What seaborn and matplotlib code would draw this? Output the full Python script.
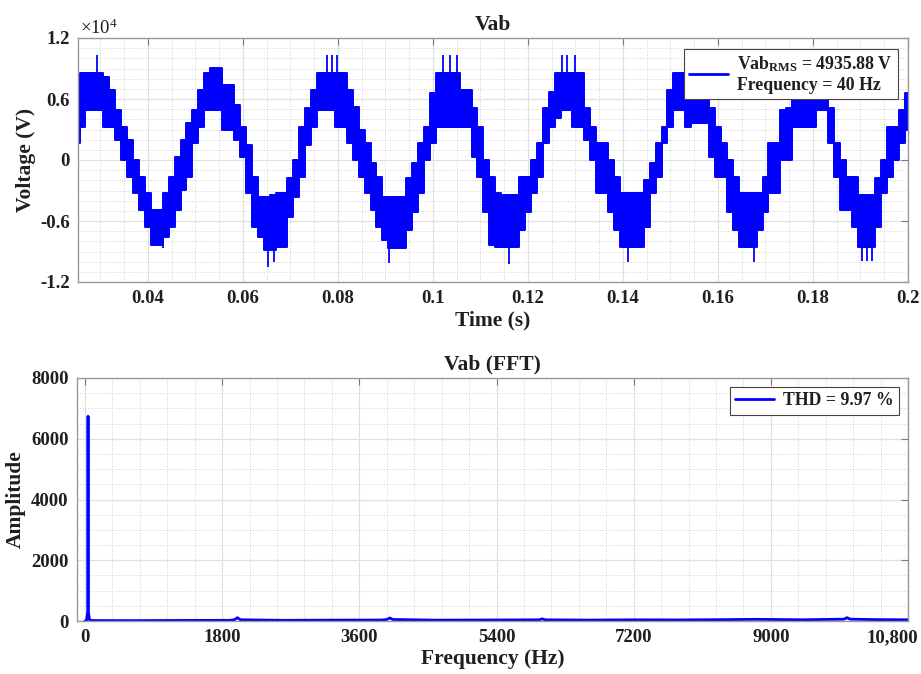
import numpy as np
import pandas as pd
import matplotlib
matplotlib.use("Agg")
import matplotlib.pyplot as plt
import matplotlib.transforms as mtransforms
import seaborn as sns
from matplotlib.lines import Line2D
from matplotlib.ticker import MultipleLocator

# ---------------- data ----------------
t_start = 0.025
t_step = 0.00125
v_upper = [8360, 8530, 8530, 8530, 8530, 8200, 6890, 4920, 3280, 1970,
           0, -1640, -3280, -4920, -4920, -3280, -1640, 330, 1970, 3610,
           4920, 6890, 8530, 9020, 9020, 7380, 7380, 5410, 3280, 1480,
           -1640, -3610, -3610, -3450, -3280, -3280, -1800, 0, 3280, 5080,
           6890, 8530, 8530, 8530, 8530, 8530, 6890, 5250, 2950, 1640,
           -330, -1640, -3610, -3610, -3610, -3610, -1800, -330, 1640, 3280,
           6560, 8530, 8530, 8530, 8530, 6890, 6890, 5080, 3280, 0,
           -1640, -3280, -3450, -3450, -3450, -1640, -1640, 0, 1640, 5080,
           6720, 8530, 8530, 8530, 8530, 8530, 5080, 3280, 1640, 1640,
           0, -1640, -3280, -3280, -3280, -3280, -1970, -330, 1640, 3280,
           6890, 8530, 8530, 8530, 8530, 8530, 6890, 5080, 3280, 1640,
           0, -1640, -3280, -3280, -3280, -3280, -1640, 1640, 1640, 4920,
           5080, 6890, 8530, 8530, 8530, 8530, 8530, 5080, 1640, 0,
           -1640, -1640, -3450, -3450, -3450, -1800, 0, 3280, 3280, 4920,
           6560]
v_lower = [1640, 3280, 4920, 4920, 4920, 3280, 3280, 1970, 0, -1640,
           -3280, -4920, -6560, -8360, -8360, -7540, -6560, -4920, -2950, -1640,
           1640, 3280, 4920, 4920, 4920, 2950, 2950, 1970, 330, -3280,
           -6560, -7540, -8860, -8860, -8530, -8530, -5580, -3610, -1640, 1480,
           3280, 4920, 4920, 4920, 3280, 3280, 1640, 0, -1640, -3280,
           -4920, -6560, -7870, -8690, -8690, -8690, -6890, -5080, -3280, 0,
           1640, 3280, 3280, 3280, 3280, 3280, 3280, 330, -1640, -5080,
           -8360, -8530, -8530, -8530, -8530, -6890, -5080, -3280, -1640, 1640,
           3280, 4100, 4920, 4920, 3280, 3280, 1970, 0, -3280, -3280,
           -5080, -6890, -8530, -8530, -8530, -8530, -6560, -3280, -1640, 1640,
           3280, 4920, 4920, 3280, 3610, 3610, 3610, 330, -1640, -1640,
           -5080, -6890, -8530, -8530, -8530, -6890, -5080, -3280, -3280, 0,
           0, 3280, 3280, 3280, 3280, 4920, 4920, 1640, -1640, -4920,
           -4920, -6560, -8530, -8530, -8530, -6560, -3280, -1640, 0, 1640,
           3000]
spike_t = [0.0293, 0.0432, 0.0653, 0.0665, 0.0777, 0.0787, 0.0798,
           0.0907, 0.1021, 0.1036, 0.1051, 0.1160, 0.1272, 0.1282,
           0.1299, 0.1411, 0.1531, 0.1676, 0.1903, 0.1914, 0.1924]
spike_v = [10330, -8700, -10500, -10000, 10330, 10330, 10330,
           -10150, 10330, 10330, 10330, -10250, 10330, 10330,
           10330, -10000, 10230, -10000, -9940, -9940, -9940]

fft_freq = [0, 20, 36, 40, 44, 60, 100, 600, 1200, 1900, 1960, 2000, 2040,
            2600, 3200, 3900, 3960, 4000, 4040, 4600, 5200, 5960, 6000, 6040,
            6600, 7200, 7800, 8400, 8800, 9400, 9960, 10000, 10040, 10400, 10800]
fft_amp = [0, 20, 300, 6740, 300, 30, 15, 12, 18, 22, 40, 110, 40,
           22, 28, 32, 50, 100, 50, 28, 32, 38, 70, 38,
           30, 38, 35, 45, 55, 40, 60, 110, 60, 45, 40]

x_ticks_top = [0.04, 0.06, 0.08, 0.1, 0.12, 0.14, 0.16, 0.18, 0.2]
x_ticklabels_top = ["0.04", "0.06", "0.08", "0.1", "0.12", "0.14", "0.16", "0.18", "0.2"]
y_ticks_top = [-12000, -6000, 0, 6000, 12000]
y_ticklabels_top = ["-1.2", "-0.6", "0", "0.6", "1.2"]
x_ticks_fft = [0, 1800, 3600, 5400, 7200, 9000, 10800]
x_ticklabels_fft = ["0", "1800", "3600", "5400", "7200", "9000", "10,800"]
y_ticks_fft = [0, 2000, 4000, 6000, 8000]

# ---------------- style ----------------
sns.set_style("white")
plt.rcParams["font.family"] = ["Liberation Serif", "DejaVu Serif"]
plt.rcParams["font.weight"] = "bold"
plt.rcParams["mathtext.fontset"] = "custom"
plt.rcParams["mathtext.rm"] = "Liberation Serif:bold"
plt.rcParams["mathtext.bf"] = "Liberation Serif:bold"
plt.rcParams["mathtext.it"] = "Liberation Serif:bold"
plt.rcParams["mathtext.default"] = "bf"

BLUE = "#0000ff"
TXT = "#1f1f1f"
SPINE = "#9a9a9a"

fig = plt.figure(figsize=(9.21, 6.74), dpi=100)
ax1 = fig.add_axes([78 / 921, 1 - 282 / 674, 830 / 921, 244 / 674])
ax2 = fig.add_axes([77 / 921, 1 - 621 / 674, 831 / 921, 243 / 674])


def style_axes(ax):
    for s in ax.spines.values():
        s.set_color(SPINE)
        s.set_linewidth(1.0)
    ax.set_axisbelow(True)
    ax.grid(True, which="major", color="#e0e0e0", linewidth=0.9, linestyle="-")
    ax.grid(True, which="minor", color="#d2d2d2", linewidth=0.7, linestyle=":")
    ax.tick_params(which="major", direction="in", length=5, width=0.8,
                   color="#777777", top=True, right=True, labelsize=13.5,
                   labelcolor=TXT, pad=6)
    ax.tick_params(which="minor", length=0)
    for lab in ax.get_xticklabels() + ax.get_yticklabels():
        lab.set_fontweight("bold")


# ---------------- top: time-domain waveform ----------------
n = len(v_upper)
time_s = np.round(t_start + t_step * np.arange(n), 6)
df_wave = pd.DataFrame({"t": time_s, "upper": v_upper, "lower": v_lower})

ax1.fill_between(df_wave["t"], df_wave["lower"], df_wave["upper"],
                 step="mid", color=BLUE, linewidth=0)
sns.lineplot(data=df_wave, x="t", y="upper", ax=ax1, color=BLUE,
             linewidth=1.4, drawstyle="steps-mid", estimator=None)
sns.lineplot(data=df_wave, x="t", y="lower", ax=ax1, color=BLUE,
             linewidth=1.4, drawstyle="steps-mid", estimator=None)
idx = [int(np.argmin(np.abs(time_s - ts))) for ts in spike_t]
base = [v_upper[i] if v > 0 else v_lower[i] for i, v in zip(idx, spike_v)]
ax1.vlines(spike_t, base, spike_v, color=BLUE, linewidth=1.3)

ax1.set_xlim(0.0253, 0.2)
ax1.set_ylim(-12000, 12000)
ax1.set_xticks(x_ticks_top)
ax1.set_xticklabels(x_ticklabels_top)
ax1.set_yticks(y_ticks_top)
ax1.set_yticklabels(y_ticklabels_top)
ax1.xaxis.set_minor_locator(MultipleLocator(0.005))
ax1.yaxis.set_minor_locator(MultipleLocator(1000))
style_axes(ax1)
ax1.set_title("Vab", fontsize=15.5, fontweight="bold", color=TXT, pad=6)
ax1.set_xlabel("Time (s)", fontsize=15.5, fontweight="bold", color=TXT, labelpad=2)
ax1.set_ylabel("Voltage (V)", fontsize=15.5, fontweight="bold", color=TXT, labelpad=3)
ax1.text(0.003, 0.998, "×10$^{\\mathregular{4}}$", transform=ax1.transAxes,
         fontsize=13.5, fontweight="normal", color=TXT, ha="left", va="bottom")
h1 = Line2D([], [], color=BLUE, linewidth=2)
leg1 = ax1.legend([h1], ["Vab$_{RMS}$ = 4935.88 V\nFrequency = 40 Hz"],
                  loc="upper right", bbox_to_anchor=(0.988, 0.955),
                  borderaxespad=0, fancybox=False, framealpha=1,
                  edgecolor="#444444", prop={"size": 12.8, "weight": "bold"},
                  handlelength=2.2, borderpad=0.3, handletextpad=0.5)
leg1.get_frame().set_linewidth(0.8)
for tx in leg1.get_texts():
    tx.set_color(TXT)

# ---------------- bottom: FFT ----------------
df_fft = pd.DataFrame({"f": fft_freq, "amp": fft_amp})
sns.lineplot(data=df_fft, x="f", y="amp", ax=ax2, color=BLUE, linewidth=2.0,
             estimator=None, label="THD = 9.97 %")
ax2.set_xlim(-105, 10800)
ax2.set_ylim(0, 8000)
ax2.set_xticks(x_ticks_fft)
ax2.set_xticklabels(x_ticklabels_fft)
ax2.set_yticks(y_ticks_fft)
ax2.xaxis.set_minor_locator(MultipleLocator(360))
ax2.yaxis.set_minor_locator(MultipleLocator(500))
style_axes(ax2)
# last tick label kept inside the figure (as in the reference)
last_lab = ax2.get_xticklabels()[-1]
last_lab.set_horizontalalignment("right")
last_lab.set_transform(last_lab.get_transform() +
                       mtransforms.ScaledTranslation(10 / 100, 0, fig.dpi_scale_trans))
ax2.set_title("Vab (FFT)", fontsize=15.5, fontweight="bold", color=TXT, pad=6)
ax2.set_xlabel("Frequency (Hz)", fontsize=15.5, fontweight="bold", color=TXT, labelpad=2)
ax2.set_ylabel("Amplitude", fontsize=15.5, fontweight="bold", color=TXT, labelpad=4)
leg2 = ax2.legend(loc="upper right", bbox_to_anchor=(0.989, 0.963),
                  borderaxespad=0, fancybox=False, framealpha=1,
                  edgecolor="#444444", prop={"size": 12.8, "weight": "bold"},
                  handlelength=2.2, borderpad=0.3, handletextpad=0.5)
leg2.get_frame().set_linewidth(0.8)
for tx in leg2.get_texts():
    tx.set_color(TXT)

fig.savefig("out.png", dpi=100)
